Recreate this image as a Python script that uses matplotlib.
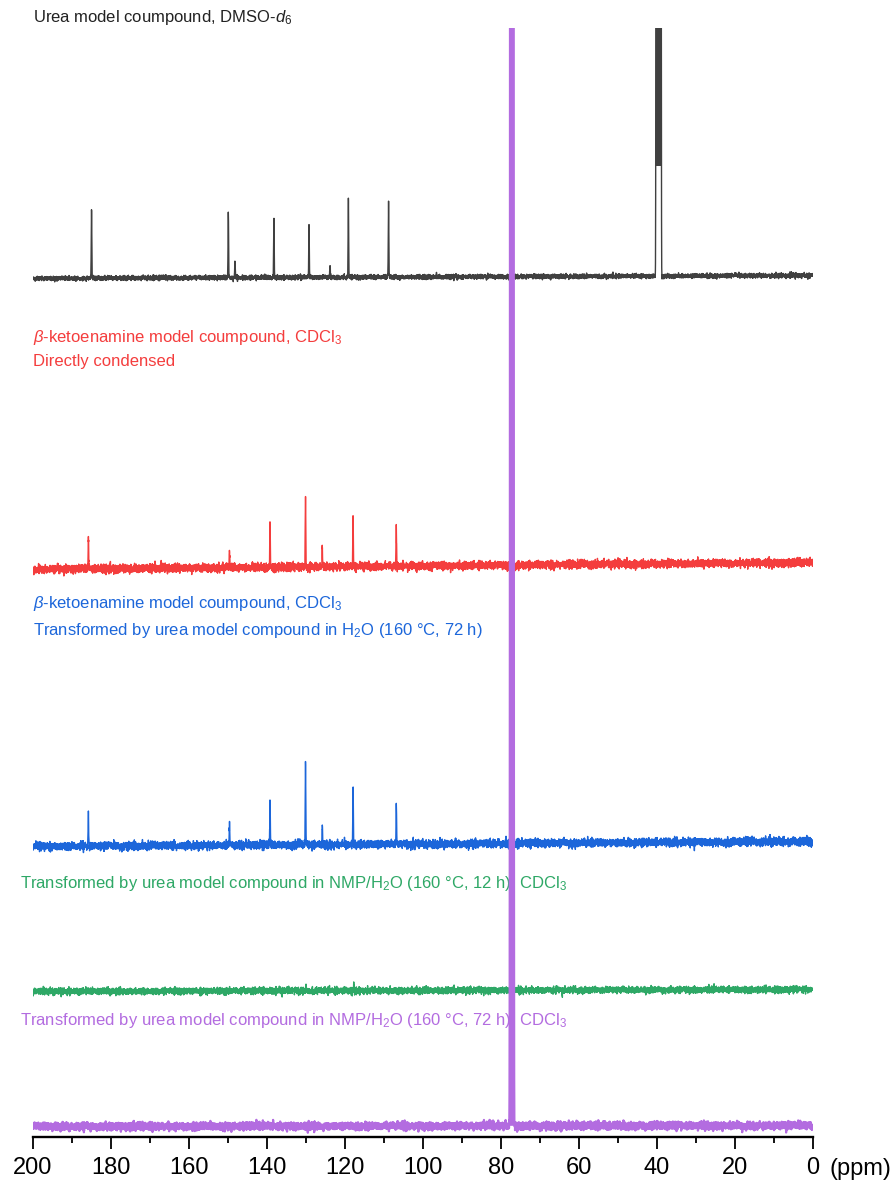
import matplotlib.pyplot as plt
import numpy as np

plt.rcParams['font.family'] = ['Liberation Sans', 'DejaVu Sans']
plt.rcParams['mathtext.fontset'] = 'custom'
plt.rcParams['mathtext.rm'] = 'Liberation Sans'
plt.rcParams['mathtext.it'] = 'Liberation Sans:italic'

# 13C peak lists (ppm) and peak heights for each trace
urea_ppm = [185.0, 149.9, 148.2, 138.2, 129.2, 123.8, 119.1, 108.8]
urea_h = [70, 64, 16, 58, 52, 12, 78, 75]
direct_ppm = [185.8, 149.6, 139.2, 130.1, 125.8, 117.9, 106.8]
direct_h = [31, 17, 44, 72, 19, 49, 38]
water_ppm = [185.8, 149.6, 139.2, 130.1, 125.8, 117.9, 106.8]
water_h = [33, 22, 43, 80, 19, 57, 41]
nmp12_ppm = [130.0, 117.7, 77.16]
nmp12_h = [5, 4, 6]
nmp72_ppm = [82.8]
nmp72_h = [3]

# solvent multiplets (ppm, relative heights)
dmso_ppm = [38.89, 39.10, 39.31, 39.52, 39.73, 39.94, 40.15]
dmso_rel = [1, 3, 6, 7, 6, 3, 1]
cdcl3_ppm = [76.84, 77.16, 77.48]
cdcl3_rel = [1, 1, 1]

# vertical offsets (left end, right end) and baseline noise level
offsets = {'urea': (859, 862), 'direct': (568, 575), 'water': (291, 296),
           'nmp12': (146, 148), 'nmp72': (11, 12)}
noise_sd = {'urea': 1.1, 'direct': 2.0, 'water': 2.0, 'nmp12': 1.6, 'nmp72': 1.8}

colors = {'urea': '#404040', 'direct': '#f43d3d', 'water': '#1c66da',
          'nmp12': '#2ea866', 'nmp72': '#b36ce0'}

ppm = np.linspace(200, 0, 9000)
rng = np.random.default_rng(7)


def gauss(x0, h, s=0.07):
    return h * np.exp(-0.5 * ((ppm - x0) / s)**2)


def trace(key, centers, heights):
    y0, y1 = offsets[key]
    base = y0 + (y1 - y0) * (200 - ppm) / 200
    y = base + rng.normal(0, noise_sd[key], ppm.size)
    for c, h in zip(centers, heights):
        y = y + gauss(c, h)
    return base, y


def add_solvent(ax, key, base, y, c_list, rel, scale, width, fill_from=0,
                zorder=2):
    # very strong solvent multiplet: filled so the clipped peak reads as a band
    for c, r in zip(c_list, rel):
        y = y + gauss(c, r * scale, width)
    mask = (np.abs(ppm - np.mean(c_list)) < 0.9) & (y - base > fill_from)
    ax.fill_between(ppm, base + fill_from, y, where=mask, color=colors[key],
                    lw=0, zorder=zorder)
    return y


fig = plt.figure(figsize=(8.93, 11.82), dpi=100)
ax = fig.add_axes([0.037, 0.0377, 0.873, 0.9387])

base, y = trace('urea', urea_ppm, urea_h)
y = add_solvent(ax, 'urea', base, y, dmso_ppm, dmso_rel, 600, 0.06,
                fill_from=110)
ax.plot(ppm, y, color=colors['urea'], lw=1.0)

for key, pk, hh in [('direct', direct_ppm, direct_h),
                    ('water', water_ppm, water_h),
                    ('nmp12', nmp12_ppm, nmp12_h)]:
    base, y = trace(key, pk, hh)
    ax.plot(ppm, y, color=colors[key], lw=1.0)

base, y = trace('nmp72', nmp72_ppm, nmp72_h)
y = add_solvent(ax, 'nmp72', base, y, cdcl3_ppm, cdcl3_rel, 5000, 0.09,
                zorder=5)
ax.plot(ppm, y, color=colors['nmp72'], lw=1.6, zorder=5)

ax.set_xlim(200, 0)
ax.set_ylim(0, 1109.5)

# labels
kw = dict(transform=ax.transData, fontsize=12, va='center', ha='left')
ax.text(200, 1120, r'Urea model coumpound, DMSO-$\mathit{d}_6$',
        color='#222222', clip_on=False, **kw)
ax.text(200, 800, r'$\mathit{\beta}$-ketoenamine model coumpound, CDCl$_3$',
        color=colors['direct'], **kw)
ax.text(200, 776, 'Directly condensed', color=colors['direct'], **kw)
ax.text(200, 534, r'$\mathit{\beta}$-ketoenamine model coumpound, CDCl$_3$',
        color=colors['water'], **kw)
ax.text(200, 507, r'Transformed by urea model compound in H$_2$O (160 °C, 72 h)',
        color=colors['water'], **kw)
ax.text(203.3, 254,
        r'Transformed by urea model compound in NMP/H$_2$O (160 °C, 12 h), CDCl$_3$',
        color=colors['nmp12'], **kw)
ax.text(203.3, 117,
        r'Transformed by urea model compound in NMP/H$_2$O (160 °C, 72 h), CDCl$_3$',
        color=colors['nmp72'], **kw)

# axis styling: only the bottom spine
for s in ['left', 'right', 'top']:
    ax.spines[s].set_visible(False)
ax.spines['bottom'].set_linewidth(1.7)
ax.set_yticks([])
ax.set_xticks(np.arange(0, 201, 20))
ax.set_xticks(np.arange(10, 200, 20), minor=True)
ax.tick_params(axis='x', which='major', direction='out', length=8.6, width=1.3,
               labelsize=17, pad=5.5)
ax.tick_params(axis='x', which='minor', direction='out', length=4.3, width=1.3)
ax.text(-4.3, -32, '(ppm)', fontsize=17, va='center', ha='left', clip_on=False)

fig.savefig('out.png', dpi=100)
